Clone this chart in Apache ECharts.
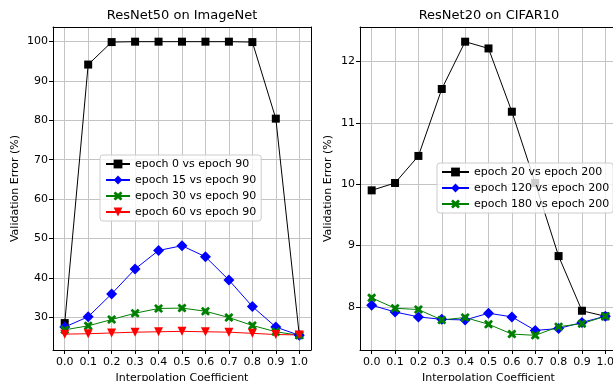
<!DOCTYPE html>
<html>
<head>
<meta charset="utf-8">
<script src="https://cdn.jsdelivr.net/npm/echarts@6/dist/echarts.min.js"></script>
<style>
  html, body { margin: 0; padding: 0; background: #fff; }
  #main { width: 613px; height: 381px; }
</style>
</head>
<body>
<div id="main"></div>
<script>
// interpolation coefficients
var xVals = [0.0, 0.1, 0.2, 0.3, 0.4, 0.5, 0.6, 0.7, 0.8, 0.9, 1.0];
var xTicks = [0.0, 0.1, 0.2, 0.3, 0.4, 0.5, 0.6, 0.7, 0.8, 0.9, 1.0];

// ResNet50 on ImageNet
var imagenetNames = ['epoch 0 vs epoch 90', 'epoch 15 vs epoch 90', 'epoch 30 vs epoch 90', 'epoch 60 vs epoch 90'];
var e0vs90  = [28.6, 94.1, 99.8, 99.9, 99.9, 99.9, 99.9, 99.9, 99.8, 80.4, 25.6];
var e15vs90 = [27.6, 30.2, 36.0, 42.3, 47.0, 48.2, 45.4, 39.5, 32.8, 27.6, 25.5];
var e30vs90 = [26.9, 27.9, 29.5, 31.1, 32.3, 32.4, 31.6, 30.0, 28.0, 26.4, 25.5];
var e60vs90 = [25.8, 25.9, 26.1, 26.3, 26.4, 26.5, 26.4, 26.3, 26.0, 25.7, 25.6];
var leftTicks = [30, 40, 50, 60, 70, 80, 90, 100];

// ResNet20 on CIFAR10
var cifarNames = ['epoch 20 vs epoch 200', 'epoch 120 vs epoch 200', 'epoch 180 vs epoch 200'];
var e20vs200  = [9.90, 10.02, 10.46, 11.55, 12.32, 12.21, 11.18, 10.02, 8.83, 7.94, 7.85];
var e120vs200 = [8.03, 7.92, 7.84, 7.80, 7.79, 7.90, 7.84, 7.62, 7.65, 7.75, 7.85];
var e180vs200 = [8.15, 7.98, 7.96, 7.79, 7.83, 7.72, 7.56, 7.54, 7.68, 7.73, 7.85];
var rightTicks = [8, 9, 10, 11, 12];

var FONT = 'DejaVu Sans';
// filled "X" marker
var xSymbol = 'path://M2,0 L5,2.5 L8,0 L10,2 L7.5,5 L10,8 L8,10 L5,7.5 L2,10 L0,8 L2.5,5 L0,2 Z';

function pairs(ys) {
  return xVals.map(function (x, i) { return [x, ys[i]]; });
}

// matplotlib-like autoscale with 5% margins
function extent(list) {
  var all = [].concat.apply([], list);
  var lo = Math.min.apply(null, all), hi = Math.max.apply(null, all);
  var pad = (hi - lo) * 0.05;
  return [lo - pad, hi + pad];
}

function xAxisFor(g) {
  return {
    type: 'value', gridIndex: g, min: -0.05, max: 1.05,
    minInterval: 0.1, maxInterval: 0.1,
    name: 'Interpolation Coefficient', nameLocation: 'middle', nameGap: 21,
    nameTextStyle: { color: '#000', fontSize: 11, fontFamily: FONT },
    axisLine: { onZero: false, lineStyle: { color: '#000', width: 1 } },
    axisTick: { length: 4, lineStyle: { color: '#000' }, customValues: xTicks },
    axisLabel: { customValues: xTicks, margin: 7, color: '#000', fontSize: 11, fontFamily: FONT,
      formatter: function (v) { return v.toFixed(1); } },
    splitLine: { show: true, lineStyle: { color: '#c4c4c4', width: 1 } }
  };
}

function yAxisFor(g, ext, ticks, step, gap) {
  return {
    type: 'value', gridIndex: g, min: ext[0], max: ext[1],
    minInterval: step, maxInterval: step,
    name: 'Validation Error (%)', nameLocation: 'middle', nameGap: gap,
    nameTextStyle: { color: '#000', fontSize: 11, fontFamily: FONT },
    axisLine: { show: true, onZero: false, lineStyle: { color: '#000', width: 1 } },
    axisTick: { show: true, length: 4, lineStyle: { color: '#000' }, customValues: ticks },
    axisLabel: { customValues: ticks, margin: 5, color: '#000', fontSize: 11, fontFamily: FONT },
    splitLine: { show: true, lineStyle: { color: '#c4c4c4', width: 1 } }
  };
}

function frameAxis(g, pos) {
  return {
    type: 'value', gridIndex: g, position: pos, min: 0, max: 1, z: 1,
    axisLine: { show: true, onZero: false, lineStyle: { color: '#000', width: 1 } },
    axisTick: { show: false }, axisLabel: { show: false }, splitLine: { show: false }
  };
}

function lineSeries(name, ys, xi, color, symbol, size, rotate) {
  return {
    type: 'line', name: name, xAxisIndex: xi, yAxisIndex: xi,
    data: pairs(ys), clip: false,
    symbol: symbol, symbolSize: size, symbolRotate: rotate || 0,
    showAllSymbol: true,
    lineStyle: { color: color, width: 1 },
    itemStyle: { color: color, opacity: 1 },
    emphasis: { disabled: true }
  };
}

var leftExt = extent([e0vs90, e15vs90, e30vs90, e60vs90]);
var rightExt = extent([e20vs200, e120vs200, e180vs200]);

var legendBase = {
  orient: 'vertical', itemGap: 4, itemHeight: 11,
  backgroundColor: 'rgba(255,255,255,0.8)', borderColor: '#cccccc', borderWidth: 1, borderRadius: 3,
  textStyle: { color: '#000', fontSize: 11, fontFamily: FONT, lineHeight: 12 }
};

var chart = echarts.init(document.getElementById('main'), null, { renderer: 'canvas' });
chart.setOption({
  animation: false,
  backgroundColor: '#fff',
  title: [
    { text: 'ResNet50 on ImageNet', left: 182, top: 9, textAlign: 'center', padding: 0,
      textStyle: { color: '#000', fontSize: 13, fontWeight: 'normal', fontFamily: FONT } },
    { text: 'ResNet20 on CIFAR10', left: 489, top: 9, textAlign: 'center', padding: 0,
      textStyle: { color: '#000', fontSize: 13, fontWeight: 'normal', fontFamily: FONT } }
  ],
  grid: [
    { left: 53, top: 27, width: 258, height: 323, outerBoundsMode: 'none' },
    { left: 360, top: 27, width: 257, height: 323, outerBoundsMode: 'none' }
  ],
  legend: [
    Object.assign({}, legendBase, { data: imagenetNames, left: 100, top: 155, padding: [3, 5], itemWidth: 24 }),
    Object.assign({}, legendBase, { data: cifarNames, left: 437, top: 163, padding: [3, 4], itemWidth: 27 })
  ],
  xAxis: [xAxisFor(0), xAxisFor(1), frameAxis(0, 'top'), frameAxis(1, 'top')],
  yAxis: [
    yAxisFor(0, leftExt, leftTicks, 10, 32),
    yAxisFor(1, rightExt, rightTicks, 1, 26),
    frameAxis(0, 'right'), frameAxis(1, 'right')
  ],
  series: [
    lineSeries(imagenetNames[0], e0vs90, 0, '#000000', 'rect', 8),
    lineSeries(imagenetNames[1], e15vs90, 0, '#0000ff', 'diamond', 11),
    lineSeries(imagenetNames[2], e30vs90, 0, '#008000', xSymbol, 9),
    lineSeries(imagenetNames[3], e60vs90, 0, '#ff0000', 'triangle', 9, 180),
    lineSeries(cifarNames[0], e20vs200, 1, '#000000', 'rect', 8),
    lineSeries(cifarNames[1], e120vs200, 1, '#0000ff', 'diamond', 11),
    lineSeries(cifarNames[2], e180vs200, 1, '#008000', xSymbol, 9)
  ]
});
</script>
</body>
</html>
